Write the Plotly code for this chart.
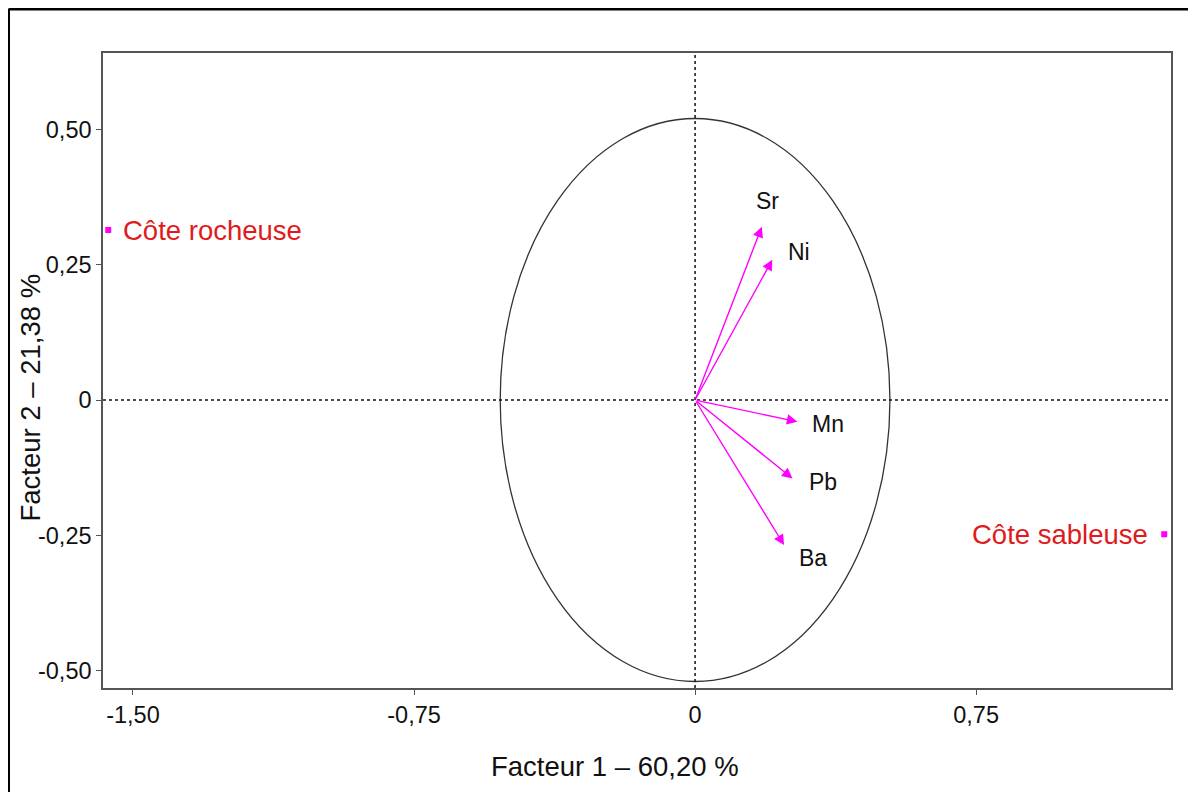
import plotly.graph_objects as go

# ---- data ----
variables = ["Sr", "Ni", "Mn", "Pb", "Ba"]
var_x = [0.178, 0.206, 0.273, 0.260, 0.2375]
var_y = [0.320, 0.259, -0.040, -0.145, -0.268]

sites = ["Côte rocheuse", "Côte sableuse"]
site_x = [-1.566, 1.252]
site_y = [0.314, -0.248]

circle_radius = 0.52

x_tickvals = [-1.5, -0.75, 0, 0.75]
x_ticktext = ["-1,50", "-0,75", "0", "0,75"]
y_tickvals = [-0.5, -0.25, 0, 0.25, 0.5]
y_ticktext = ["-0,50", "-0,25", "0", "0,25", "0,50"]

x_title = "Facteur 1 – 60,20 %"
y_title = "Facteur 2 – 21,38 %"

# ---- styles ----
FONT = "Liberation Sans, Arial, sans-serif"
MAGENTA = "#ff00ff"
RED = "#e01b1b"
AXC = "#555555"
label_shifts = [(6, 26), (27, 8), (31, -2), (30, -3), (29, -13)]  # px offsets of variable labels

fig = go.Figure()

# site markers
fig.add_trace(go.Scatter(
    x=site_x, y=site_y, mode="markers",
    marker=dict(symbol="square", size=6, color=MAGENTA),
    cliponaxis=False, showlegend=False, hoverinfo="text", text=sites,
))

annotations = []
# arrows
for name, x, y, (dx, dy) in zip(variables, var_x, var_y, label_shifts):
    annotations.append(dict(
        x=x, y=y, ax=0, ay=0, xref="x", yref="y", axref="x", ayref="y",
        showarrow=True, arrowhead=2, arrowsize=1.5, arrowwidth=1.4,
        arrowcolor=MAGENTA, standoff=0, startstandoff=0, text="",
    ))
    annotations.append(dict(
        x=x, y=y, xref="x", yref="y", text=name, showarrow=False,
        xshift=dx, yshift=dy, font=dict(family=FONT, size=23, color="#111111"),
        xanchor="center", yanchor="middle",
    ))

# site labels
annotations.append(dict(
    x=site_x[0], y=site_y[0], xref="x", yref="y", text=sites[0], showarrow=False,
    xanchor="left", yanchor="middle", xshift=13,
    font=dict(family=FONT, size=27.5, color=RED),
))
annotations.append(dict(
    x=site_x[1], y=site_y[1], xref="x", yref="y", text=sites[1], showarrow=False,
    xanchor="right", yanchor="middle", xshift=-14,
    font=dict(family=FONT, size=27.5, color=RED),
))

# axis titles
annotations.append(dict(
    x=0.479, y=-0.124, xref="paper", yref="paper", text=x_title, showarrow=False,
    xanchor="center", yanchor="middle", font=dict(family=FONT, size=27.5, color="#111111"),
))
annotations.append(dict(
    x=-0.068, y=0.458, xref="paper", yref="paper", text=y_title, showarrow=False,
    textangle=-90, xanchor="center", yanchor="middle",
    font=dict(family=FONT, size=27.5, color="#111111"),
))

shapes = [
    # correlation circle
    dict(type="circle", xref="x", yref="y",
         x0=-circle_radius, x1=circle_radius, y0=-circle_radius, y1=circle_radius,
         line=dict(color="#333333", width=1.3)),
    # dotted axes through origin
    dict(type="line", xref="x", yref="paper", x0=0, x1=0, y0=0, y1=1,
         line=dict(color="#111111", width=1.5, dash="3px,3px")),
    dict(type="line", xref="paper", yref="y", x0=0, x1=1, y0=0, y1=0,
         line=dict(color="#111111", width=1.5, dash="3px,3px")),
    # outer image border (top and left)
    dict(type="line", xref="paper", yref="paper", x0=-0.0885, x1=1.05, y0=1.0693, y1=1.0693,
         line=dict(color="black", width=3)),
    dict(type="line", xref="paper", yref="paper", x0=-0.0885, x1=-0.0885, y0=1.0693, y1=-0.2,
         line=dict(color="black", width=3)),
]

fig.update_layout(
    width=1188, height=784,
    margin=dict(l=95, r=25, t=45, b=104),
    paper_bgcolor="white", plot_bgcolor="white",
    font=dict(family=FONT, size=23.5, color="#111111"),
    showlegend=False,
    annotations=annotations,
    shapes=shapes,
    xaxis=dict(
        range=[-1.58, 1.27], tickvals=x_tickvals, ticktext=x_ticktext,
        showgrid=False, zeroline=False, showline=True, mirror=True,
        linecolor=AXC, linewidth=1.5, ticks="outside", ticklen=5, tickcolor=AXC,
        tickfont=dict(family=FONT, size=23.5, color="#111111"),
    ),
    yaxis=dict(
        range=[-0.532, 0.641], tickvals=y_tickvals, ticktext=y_ticktext,
        showgrid=False, zeroline=False, showline=True, mirror=True,
        linecolor=AXC, linewidth=1.5, ticks="outside", ticklen=5, tickcolor=AXC,
        tickfont=dict(family=FONT, size=23.5, color="#111111"),
    ),
)

fig.write_html("out.html")
